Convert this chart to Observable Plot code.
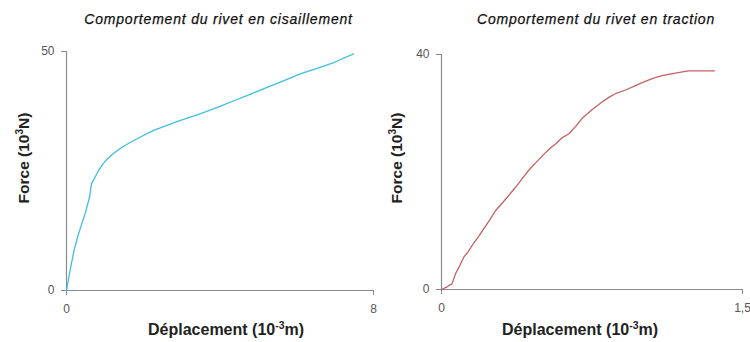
<!DOCTYPE html>
<html>
<head>
<meta charset="utf-8">
<script src="https://cdn.jsdelivr.net/npm/d3@7"></script>
<script src="https://cdn.jsdelivr.net/npm/@observablehq/plot@0.6"></script>
<style>
  html, body { margin: 0; padding: 0; background: #fff; }
  #wrap { position: relative; width: 750px; height: 342px; overflow: hidden; font-family: "Liberation Sans", Arial, sans-serif; }
  .panel { position: absolute; top: 0; }
  .t { position: absolute; white-space: nowrap; transform: translate(-50%, -50%); color: #222; }
  .title { font-style: italic; font-size: 14px; letter-spacing: 0.8px; color: #111; -webkit-text-stroke: 0.25px #111; }
  .lab { font-weight: bold; font-size: 16px; color: #222; }
  .ylab { transform: translate(-50%, -50%) rotate(-90deg); font-size: 15.5px; }
  sup { font-size: 0.65em; line-height: 0; vertical-align: 0.55em; }
</style>
</head>
<body>
<div id="wrap"></div>
<script>
// ---- Data ----
const shearTitle = "Comportement du rivet en cisaillement";
const tensionTitle = "Comportement du rivet en traction";
const shearDisp = [0, 0.1, 0.2, 0.3, 0.4, 0.5, 0.6, 0.65, 0.75, 0.85, 0.95, 1.05, 1.2, 1.4, 1.6, 1.9, 2.27, 2.6, 2.97, 3.5, 4.0, 4.36, 4.8, 5.23, 5.7, 6.09, 6.61, 7.0, 7.48];
const shearForce = [0, 4.5, 8.5, 11.5, 14, 16.5, 19.5, 22.3, 23.8, 25.3, 26.5, 27.4, 28.5, 29.7, 30.7, 32, 33.5, 34.5, 35.6, 37, 38.5, 39.7, 41.1, 42.5, 44, 45.3, 46.7, 47.8, 49.5];
const tensionDisp = [0, 0.03, 0.053, 0.07, 0.09, 0.111, 0.13, 0.153, 0.18, 0.21, 0.24, 0.269, 0.3, 0.335, 0.369, 0.4, 0.435, 0.47, 0.51, 0.54, 0.57, 0.6, 0.635, 0.67, 0.7, 0.75, 0.8, 0.834, 0.87, 0.92, 0.967, 1.0, 1.05, 1.09, 1.13, 1.18, 1.23, 1.3, 1.36];
const tensionForce = [0, 0.5, 1, 2.7, 4, 5.5, 6.3, 7.5, 8.8, 10.3, 11.8, 13.4, 14.6, 16, 17.4, 18.8, 20.3, 21.6, 23, 24, 24.8, 25.8, 26.5, 27.8, 29.1, 30.6, 31.9, 32.7, 33.4, 34, 34.7, 35.2, 35.9, 36.3, 36.6, 36.9, 37.2, 37.2, 37.2];
const shearXTicks = [0, 8];
const shearYTicks = [0, 50];
const tensionXTicks = [0, 1.5];
const tensionYTicks = [0, 40];

const fmt = d => String(d).replace(".", ",");

function panel(xs, ys, xDomain, yDomain, xTicks, yTicks, color, m) {
  const data = xs.map((x, i) => ({x, y: ys[i]}));
  return Plot.plot({
    width: 375, height: 342,
    marginLeft: m.left, marginRight: m.right, marginTop: m.top, marginBottom: m.bottom,
    style: {fontFamily: '"Liberation Sans", Arial, sans-serif', fontSize: "12px", background: "transparent", overflow: "visible"},
    x: {domain: xDomain},
    y: {domain: yDomain},
    marks: [
      Plot.ruleX([xDomain[0]], {stroke: "#8a8a8a", strokeWidth: 1.2}),
      Plot.ruleY([yDomain[0]], {stroke: "#8a8a8a", strokeWidth: 1.2}),
      Plot.axisX({ticks: xTicks, tickFormat: fmt, tickSize: 5, tickPadding: 9, stroke: "#8a8a8a", fill: "#555", label: null}),
      Plot.axisY({ticks: yTicks, tickFormat: fmt, tickSize: 5, tickPadding: 7, stroke: "#8a8a8a", fill: "#555", label: null}),
      Plot.line(data, {x: "x", y: "y", stroke: color, strokeWidth: 1.3})
    ]
  });
}

const wrap = document.getElementById("wrap");
const p1 = panel(shearDisp, shearForce, [0, 8], [0, 50], shearXTicks, shearYTicks, "#3cbfe0",
  {left: 66, right: 2, top: 51, bottom: 52});
p1.classList.add("panel"); p1.style.left = "0px"; p1.style.position = "absolute";
wrap.appendChild(p1);
const p2 = panel(tensionDisp, tensionForce, [0, 1.5], [0, 40], tensionXTicks, tensionYTicks, "#c46262",
  {left: 66, right: 8, top: 54, bottom: 53});
p2.classList.add("panel"); p2.style.left = "375px"; p2.style.position = "absolute";
wrap.appendChild(p2);

function addText(html, cls, x, y) {
  const d = document.createElement("div");
  d.className = "t " + cls;
  d.innerHTML = html;
  d.style.left = x + "px";
  d.style.top = y + "px";
  wrap.appendChild(d);
}
addText(shearTitle, "title", 218.5, 19);
addText(tensionTitle, "title", 596, 19);
addText("Déplacement (10<sup>-3</sup>m)", "lab", 226, 330);
addText("Déplacement (10<sup>-3</sup>m)", "lab", 580, 330);
addText("Force (10<sup>3</sup>N)", "lab ylab", 24, 158);
addText("Force (10<sup>3</sup>N)", "lab ylab", 397, 158);
</script>
</body>
</html>
